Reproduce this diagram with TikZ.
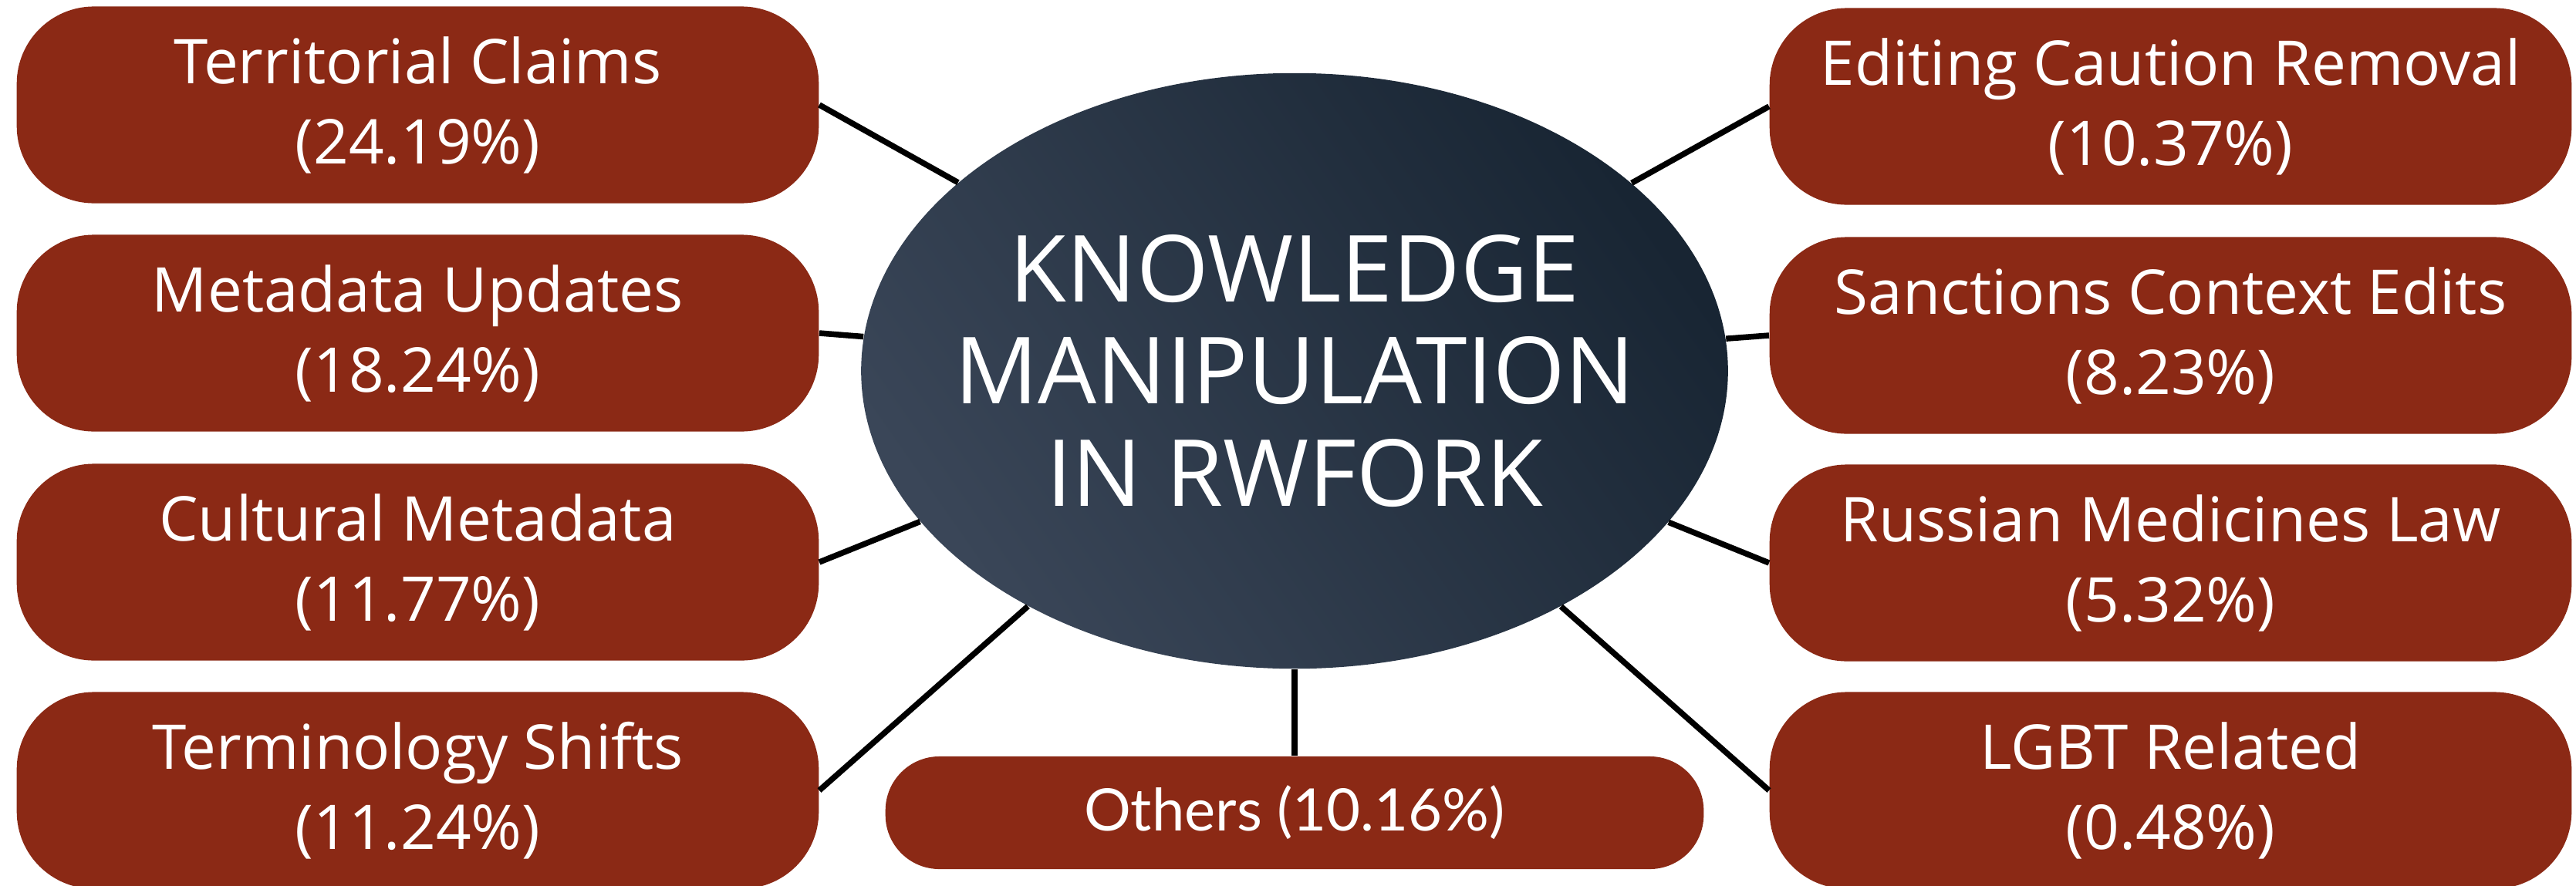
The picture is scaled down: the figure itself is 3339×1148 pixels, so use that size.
\documentclass[tikz,border=0pt]{standalone}
\usepackage{fontspec}
\setmainfont{Open Sans}
\newfontfamily\othersfont{Lato}
\usetikzlibrary{shapes.geometric}
\definecolor{boxred}{RGB}{139,41,21}
\definecolor{ellLight}{RGB}{58,70,88}
\definecolor{ellDark}{RGB}{24,37,51}
\begin{document}
\begin{tikzpicture}[x=0.01cm,y=-0.01cm,
  catbox/.style={rectangle, rounded corners=1cm, fill=boxred, text=white,
    minimum width=10.39cm, minimum height=2.55cm, align=center, inner sep=0pt,
    font=\fontsize{22.76}{29.6}\selectfont},
  othbox/.style={rectangle, rounded corners=0.7cm, fill=boxred, text=white,
    minimum width=10.6cm, minimum height=1.46cm, align=center, inner sep=0pt,
    font=\othersfont\fontsize{21.6}{26}\selectfont},
  centre/.style={ellipse, minimum width=11.23cm, minimum height=7.72cm, inner sep=0pt,
    top color=ellDark, bottom color=ellLight, shading angle=-55},
  titletext/.style={text=white, align=center, inner sep=0pt,
    font=\fontsize{34.14}{37.55}\selectfont},
  link/.style={line width=0.075cm, draw=black}]
\useasboundingbox (0,0) rectangle (3339,1148);

\node[centre] (ell) at (1678,481) {};
\node[titletext] (title) at (ell.center) {KNOWLEDGE\\MANIPULATION\\IN RWFORK};

\node[catbox] (b1) at (541.5,136) {Territorial Claims\\(24.19\%)};
\node[catbox] (b2) at (541.5,432) {Metadata Updates\\(18.24\%)};
\node[catbox] (b3) at (541.5,729) {Cultural Metadata\\(11.77\%)};
\node[catbox] (b4) at (541.5,1025) {Terminology Shifts\\(11.24\%)};

\node[catbox] (c1) at (2813.5,138) {Editing Caution Removal\\(10.37\%)};
\node[catbox] (c2) at (2813.5,435) {Sanctions Context Edits\\(8.23\%)};
\node[catbox] (c3) at (2813.5,730) {Russian Medicines Law\\(5.32\%)};
\node[catbox] (c4) at (2813.5,1025) {LGBT Related\\(0.48\%)};

\node[othbox] (oth) at (1678,1054) {Others (10.16\%)};

\draw[link] (b1.east) -- (ell);
\draw[link] (b2.east) -- (ell);
\draw[link] (b3.east) -- (ell);
\draw[link] (b4.east) -- (ell);
\draw[link] (c1.west) -- (ell);
\draw[link] (c2.west) -- (ell);
\draw[link] (c3.west) -- (ell);
\draw[link] (c4.west) -- (ell);
\draw[link] (ell) -- (oth.north);
\end{tikzpicture}
\end{document}
